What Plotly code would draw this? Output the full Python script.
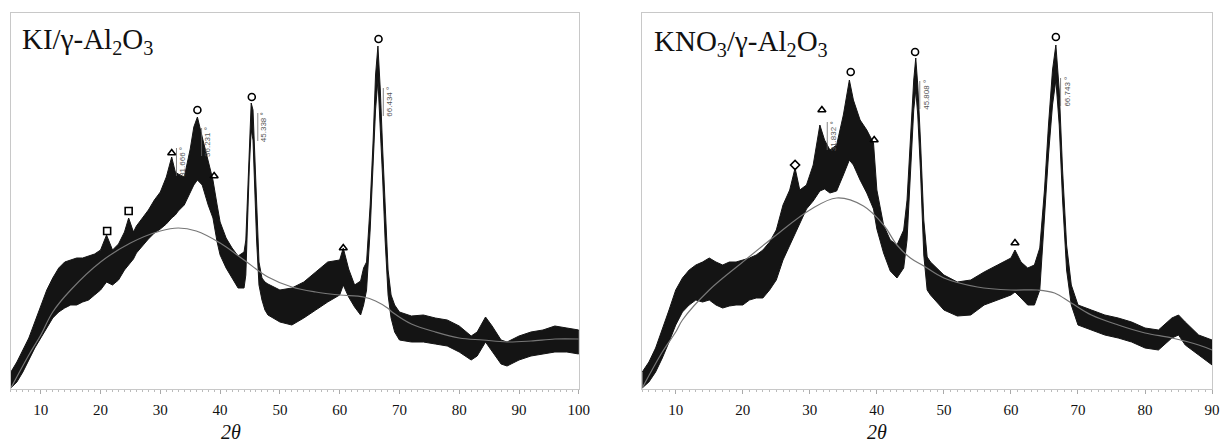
import plotly.graph_objects as go

# ---------------- KI / gamma-Al2O3 (left) ----------------
ki_theta = [5, 6, 7, 8, 9, 10, 11, 12, 13, 14, 15, 16, 17, 18, 19, 20, 21, 22, 23, 24, 24.7,
            25.5, 26, 27, 28, 29, 30, 31, 31.9, 32.5, 33, 34, 35, 35.6, 36.2, 37, 38, 38.8,
            39.5, 40, 41, 42, 43, 44, 44.3, 44.6, 44.9, 45.2, 45.5, 45.8, 46.1, 46.5, 47.0,
            47.5, 48, 50, 52, 54, 56, 58, 60, 60.6, 61.5, 62.5, 63.5, 64.0, 64.5, 65.1, 65.6,
            66.0, 66.4, 66.8, 67.2, 67.6, 68.1, 68.6, 69.2, 70, 72, 74, 76, 78, 80, 82, 83,
            84.4, 85.5, 87, 88, 90, 92, 94, 96, 98, 100]
ki_upper = [17, 27, 39, 51, 67, 84, 99, 111, 121, 127, 129, 131, 131, 133, 135, 139, 154, 139,
            145, 157, 171, 157, 163, 171, 179, 189, 197, 212, 232, 217, 215, 212, 240, 262, 272,
            252, 229, 209, 184, 167, 151, 141, 133, 137, 149, 194, 249, 286, 279, 229, 174, 127,
            111, 107, 105, 99, 101, 107, 117, 127, 129, 141, 120, 104, 108, 121, 127, 184, 249,
            314, 343, 299, 239, 179, 119, 94, 84, 77, 73, 74, 71, 69, 63, 53, 57, 72, 63, 49, 47,
            53, 57, 59, 63, 61, 59]
ki_lower = [1, 7, 17, 29, 41, 51, 61, 71, 77, 81, 84, 84, 87, 89, 94, 99, 107, 104, 109, 119,
            124, 130, 136, 143, 150, 156, 160, 165, 171, 174, 178, 184, 197, 204, 209, 204, 184,
            171, 147, 134, 121, 111, 101, 101, 114, 169, 224, 259, 249, 199, 149, 104, 89, 79,
            74, 67, 64, 71, 79, 87, 94, 104, 92, 82, 74, 84, 99, 159, 224, 279, 309, 264, 209,
            149, 94, 71, 57, 49, 47, 47, 45, 43, 37, 29, 33, 47, 37, 25, 23, 29, 33, 35, 37, 37,
            35]
ki_base_theta = [5, 8, 10, 12, 15, 20, 25, 30, 33, 36, 40, 44, 48, 52, 56, 60, 64, 66, 68,
                 69, 72, 76, 80, 84, 88, 92, 96, 100]
ki_base = [1, 34, 54, 77, 99, 127, 146, 158, 161, 158, 146, 129, 112, 102, 97, 94, 92, 88, 81,
           76, 65, 57, 51, 49, 47, 48, 50, 50]
ki_mark_theta = [21.1, 24.7, 31.9, 36.2, 39.0, 45.3, 60.6, 66.5]
ki_mark_int = [158, 178, 236, 279, 213, 292, 141, 350]
ki_mark_sym = ["square-open", "square-open", "triangle-up-open", "circle-open",
               "triangle-up-open", "circle-open", "triangle-up-open", "circle-open"]
ki_label_text = ["31.666 °", "36.231 °", "45.338 °", "66.434 °"]
ki_label_theta = [33.6, 37.8, 47.2, 68.2]
ki_label_int = [227, 247, 262, 287]

# ---------------- KNO3 / gamma-Al2O3 (right) ----------------
kn_theta = [5, 6, 7, 8, 9, 10, 11, 12, 13, 14, 15, 16, 17, 18, 19, 20, 21, 22, 23, 24, 25, 26,
            27, 27.8, 28.5, 29.5, 30.5, 31.5, 32.2, 33, 34, 35, 35.9, 36.5, 37.5, 38.5, 39.5,
            40, 41, 42, 43, 44, 44.5, 45.0, 45.5, 45.8, 46.1, 46.5, 47.0, 47.5, 48, 50, 52, 54,
            56, 58, 60, 60.6, 61.5, 62.5, 63.5, 64.3, 65.0, 65.6, 66.2, 66.7, 67.2, 67.7, 68.3,
            69.0, 70, 72, 74, 76, 78, 80, 82, 84, 85, 86, 88, 90]
kn_upper = [17, 27, 41, 59, 79, 99, 111, 119, 124, 127, 131, 127, 124, 127, 127, 129, 131, 134,
            139, 147, 159, 184, 199, 221, 199, 204, 224, 264, 249, 239, 244, 274, 309, 289, 269,
            259, 246, 199, 164, 149, 144, 159, 189, 249, 309, 331, 304, 249, 169, 132, 127, 114,
            107, 109, 117, 124, 131, 139, 127, 121, 124, 141, 199, 264, 319, 344, 299, 219, 144,
            104, 84, 79, 74, 71, 67, 61, 59, 71, 74, 67, 54, 49]
kn_lower = [1, 7, 17, 31, 47, 64, 77, 84, 89, 87, 89, 84, 81, 83, 84, 84, 89, 91, 91, 99, 109,
            129, 143, 155, 165, 180, 188, 198, 200, 196, 198, 214, 229, 224, 209, 196, 180, 160,
            136, 118, 111, 121, 149, 214, 279, 299, 274, 219, 134, 99, 94, 79, 73, 74, 84, 89,
            94, 97, 91, 84, 84, 99, 169, 234, 284, 309, 264, 189, 119, 84, 64, 59, 54, 51, 47,
            41, 39, 51, 54, 44, 34, 24]
kn_base_theta = [5, 8, 10, 11, 15, 20, 25, 30, 34, 38, 41, 43, 45, 47, 50, 55, 60, 64, 66.5,
                 69, 72, 76, 80, 84, 88, 90]
kn_base = [1, 37, 57, 69, 99, 127, 154, 179, 191, 183, 164, 144, 131, 123, 111, 102, 99, 99,
           96, 86, 74, 64, 56, 51, 44, 39]
kn_mark_theta = [27.8, 31.8, 36.1, 39.6, 45.7, 60.6, 66.7]
kn_mark_int = [224, 279, 317, 249, 337, 146, 352]
kn_mark_sym = ["diamond-open", "triangle-up-open", "circle-open", "triangle-up-open",
               "circle-open", "triangle-up-open", "circle-open"]
kn_label_text = ["31.832 °", "45.808 °", "66.743 °"]
kn_label_theta = [33.5, 47.3, 68.3]
kn_label_int = [253, 294, 297]

titles = ["KI/γ-Al<sub>2</sub>O<sub>3</sub>", "KNO<sub>3</sub>/γ-Al<sub>2</sub>O<sub>3</sub>"]
x_title = "<i>2θ</i>"

fig = go.Figure()

W, H = 1232, 443
panels = [
    dict(theta=ki_theta, up=ki_upper, lo=ki_lower, bt=ki_base_theta, b=ki_base,
         mt=ki_mark_theta, mi=ki_mark_int, ms=ki_mark_sym, lt=ki_label_text,
         lx=ki_label_theta, ly=ki_label_int, xa="x", ya="y"),
    dict(theta=kn_theta, up=kn_upper, lo=kn_lower, bt=kn_base_theta, b=kn_base,
         mt=kn_mark_theta, mi=kn_mark_int, ms=kn_mark_sym, lt=kn_label_text,
         lx=kn_label_theta, ly=kn_label_int, xa="x2", ya="y2"),
]

for p in panels:
    xs = list(p["theta"]) + list(reversed(p["theta"]))
    ys = list(p["up"]) + list(reversed(p["lo"]))
    fig.add_trace(go.Scatter(x=xs, y=ys, mode="lines", fill="toself",
                             fillcolor="#141414", line=dict(color="#141414", width=1),
                             xaxis=p["xa"], yaxis=p["ya"], showlegend=False,
                             hoverinfo="skip"))
    fig.add_trace(go.Scatter(x=p["bt"], y=p["b"], mode="lines", line_shape="spline",
                             line=dict(color="#777777", width=1.2),
                             xaxis=p["xa"], yaxis=p["ya"], showlegend=False))
    fig.add_trace(go.Scatter(x=p["mt"], y=p["mi"], mode="markers",
                             marker=dict(symbol=p["ms"], size=7, color="black",
                                         line=dict(color="black", width=1.6)),
                             xaxis=p["xa"], yaxis=p["ya"], showlegend=False))
    for t, lx, ly in zip(p["lt"], p["lx"], p["ly"]):
        fig.add_annotation(x=lx, y=ly, xref=p["xa"], yref=p["ya"], text=t,
                           textangle=-90, showarrow=False,
                           font=dict(family="Liberation Sans", size=8, color="#555555"))
        fig.add_shape(type="line", xref=p["xa"], yref=p["ya"],
                      x0=lx - 0.9, x1=lx - 0.9, y0=ly - 14, y1=ly + 14,
                      line=dict(color="#666666", width=0.8))

dom1 = [11 / W, 584 / W]
dom2 = [648 / W, 1223 / W]
ydom = [(H - 389) / H, (H - 13) / H]

axis_common = dict(showline=True, linecolor="#c8c8c8", linewidth=1, mirror=True,
                   showgrid=False, zeroline=False, ticks="outside", ticklen=4,
                   tickcolor="#aaaaaa", tickwidth=1,
                   tickfont=dict(family="Liberation Serif", size=15, color="#111111"),
                   minor=dict(dtick=1, ticks="outside", ticklen=2, tickcolor="#bbbbbb"),
                   ticklabelstandoff=3)
yaxis_common = dict(showline=True, linecolor="#c8c8c8", linewidth=1, mirror=True,
                    showgrid=False, zeroline=False, showticklabels=False, ticks="",
                    range=[0, 376], domain=ydom, fixedrange=True)

fig.update_layout(
    width=W, height=H, margin=dict(l=0, r=0, t=0, b=0),
    paper_bgcolor="white", plot_bgcolor="white",
    xaxis=dict(axis_common, domain=dom1, range=[5, 100], tickvals=list(range(10, 101, 10))),
    yaxis=dict(yaxis_common, anchor="x"),
    xaxis2=dict(axis_common, domain=dom2, range=[5, 90], tickvals=list(range(10, 91, 10)),
                anchor="y2"),
    yaxis2=dict(yaxis_common, anchor="x2"),
)

fig.add_annotation(x=20 / W, y=(H - 41) / H, xref="paper", yref="paper", text=titles[0],
                   showarrow=False, xanchor="left", yanchor="middle",
                   font=dict(family="Liberation Serif", size=29, color="#111111"))
fig.add_annotation(x=658 / W, y=(H - 43) / H, xref="paper", yref="paper", text=titles[1],
                   showarrow=False, xanchor="left", yanchor="middle",
                   font=dict(family="Liberation Serif", size=29, color="#111111"))
for cx in (233, 885):
    fig.add_annotation(x=cx / W, y=(H - 432) / H, xref="paper", yref="paper", text=x_title,
                       showarrow=False, xanchor="center", yanchor="middle",
                       font=dict(family="Liberation Serif", size=20, color="#111111"))

fig.write_html("out.html",
               config={"displayModeBar": False},
               post_script="document.body.style.margin='0px';"
                           "document.body.style.overflow='hidden';")
